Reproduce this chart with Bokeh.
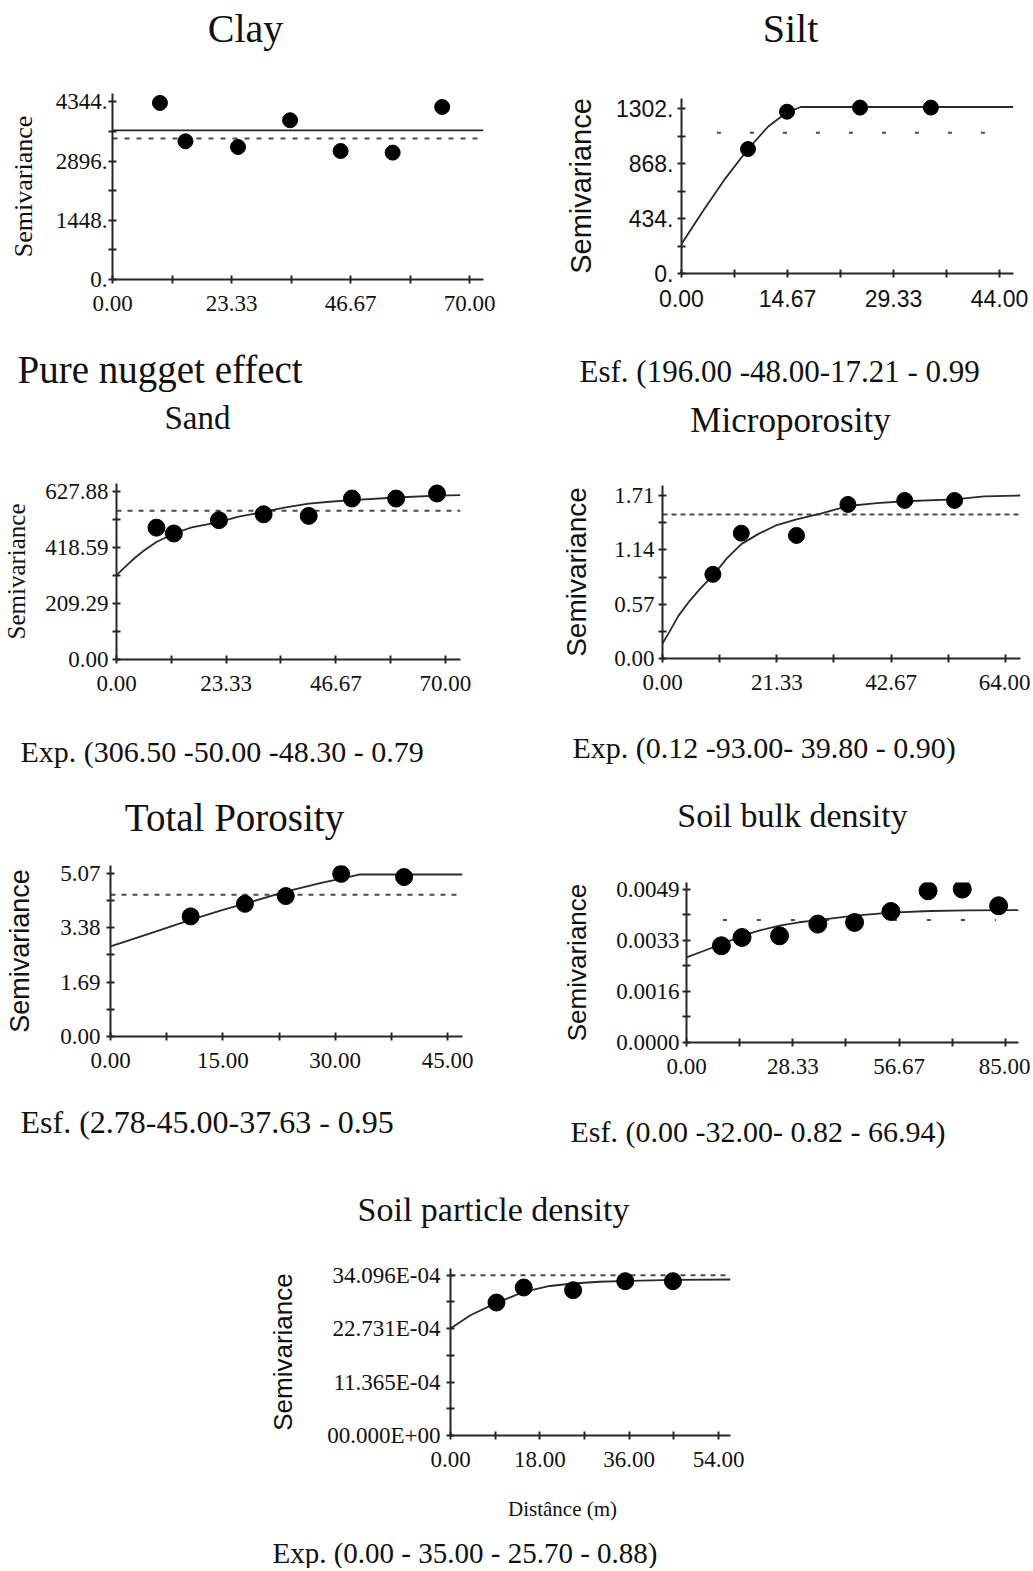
from bokeh.plotting import figure
from bokeh.models import Range1d, FixedTicker, Label
from bokeh.layouts import row, column
from bokeh.embed import file_html
from bokeh.resources import INLINE

SERIF = "Liberation Serif"
SANS = "Liberation Sans"
INK = "#111111"
AX = "#262626"

# ---------------- data ----------------
# Clay (pure nugget effect)
clay_lag = [9.3, 14.3, 24.6, 34.8, 44.7, 54.9, 64.6]
clay_gamma = [4320, 3381, 3241, 3896, 3143, 3104, 4221]
clay_model_x = [0, 72.7]
clay_model_y = [3650, 3650]
clay_var = 3447
clay_xticks = [0.0, 23.33, 46.67, 70.0]
clay_xlabels = ["0.00", "23.33", "46.67", "70.00"]
clay_yticks = [0.0, 1448.0, 2896.0, 4344.0]
clay_ylabels = ["0.", "1448.", "2896.", "4344."]

# Silt
silt_lag = [9.2, 14.6, 24.7, 34.5]
silt_gamma = [982, 1277, 1309, 1309]
silt_model_x = [0, 3, 6, 9.2, 12, 14.6, 16.5, 45.9]
silt_model_y = [233, 495, 745, 982, 1160, 1272, 1314, 1314]
silt_var = 1110
silt_var_x = [4.9, 42.6]
silt_xticks = [0.0, 14.67, 29.33, 44.0]
silt_xlabels = ["0.00", "14.67", "29.33", "44.00"]
silt_yticks = [0.0, 434.0, 868.0, 1302.0]
silt_ylabels = ["0.", "434.", "868.", "1302."]

# Sand
sand_lag = [8.5, 12.2, 21.8, 31.3, 40.9, 50.1, 59.5, 68.2]
sand_gamma = [494, 472, 522, 544, 538, 603, 603, 622]
sand_model_x = [0, 2, 4, 6, 8.5, 12.2, 16, 21.8, 26, 31.3, 36, 40.9, 46, 50.1, 59.5, 68.2, 73.2]
sand_model_y = [316, 350, 382, 410, 440, 472, 495, 515, 535, 553, 570, 584, 592, 597, 607, 614, 616]
sand_var = 557
sand_xticks = [0.0, 23.33, 46.67, 70.0]
sand_xlabels = ["0.00", "23.33", "46.67", "70.00"]
sand_yticks = [0.0, 209.29, 418.59, 627.88]
sand_ylabels = ["0.00", "209.29", "418.59", "627.88"]

# Microporosity
micro_lag = [9.4, 14.7, 25.0, 34.6, 45.2, 54.5]
micro_gamma = [0.883, 1.315, 1.291, 1.616, 1.658, 1.658]
micro_model_x = [0, 1.5, 3, 5, 7, 9.4, 12, 14.7, 18, 21.33, 25, 29.5, 34.6, 40, 45.2, 54.5, 60, 66.8]
micro_model_y = [0.157, 0.30, 0.45, 0.60, 0.73, 0.87, 1.05, 1.20, 1.31, 1.40, 1.46, 1.52, 1.60, 1.63, 1.65, 1.67, 1.70, 1.71]
micro_var = 1.511
micro_xticks = [0.0, 21.33, 42.67, 64.0]
micro_xlabels = ["0.00", "21.33", "42.67", "64.00"]
micro_yticks = [0.0, 0.57, 1.14, 1.71]
micro_ylabels = ["0.00", "0.57", "1.14", "1.71"]

# Total porosity
total_lag = [10.7, 17.95, 23.4, 30.8, 39.2]
total_gamma = [3.73, 4.12, 4.36, 5.05, 4.95]
total_model_x = [0, 5, 10.7, 15, 18, 23.4, 28, 30.8, 33.2, 47.0]
total_model_y = [2.80, 3.18, 3.62, 3.93, 4.13, 4.50, 4.76, 4.90, 5.03, 5.03]
total_var = 4.40
total_xticks = [0.0, 15.0, 30.0, 45.0]
total_xlabels = ["0.00", "15.00", "30.00", "45.00"]
total_yticks = [0.0, 1.69, 3.38, 5.07]
total_ylabels = ["0.00", "1.69", "3.38", "5.07"]

# Soil bulk density
bulk_lag = [9.3, 14.8, 24.8, 35.0, 44.8, 54.5, 64.4, 73.5, 83.2]
bulk_gamma = [0.003089, 0.003354, 0.003408, 0.003782, 0.003833, 0.004185, 0.004846, 0.0049, 0.004367]
bulk_model_x = [0, 4.7, 9.3, 14.8, 19.8, 24.8, 30, 35, 44.8, 54.5, 65, 75, 88.5]
bulk_model_y = [0.00272, 0.00293, 0.00314, 0.00341, 0.00359, 0.00373, 0.00384, 0.00391,
                0.00405, 0.00415, 0.00420, 0.00422, 0.00423]
bulk_var = 0.00391
bulk_var_x = [9.7, 82.5]
bulk_xticks = [0.0, 28.33, 56.67, 85.0]
bulk_xlabels = ["0.00", "28.33", "56.67", "85.00"]
bulk_yticks = [0.0, 0.0016333, 0.0032667, 0.0049]
bulk_ylabels = ["0.0000", "0.0016", "0.0033", "0.0049"]

# Soil particle density
part_lag = [9.26, 14.75, 24.7, 35.2, 44.8]
part_gamma = [0.002828, 0.003148, 0.00309, 0.003282, 0.003282]
part_model_x = [0, 4, 9.26, 14.75, 20, 24.7, 30, 36, 45, 56.4]
part_model_y = [0.002274, 0.002557, 0.00282, 0.003054, 0.00318, 0.003233, 0.00327, 0.003288, 0.00331, 0.003318]
part_var = 0.0034096
part_xticks = [0.0, 18.0, 36.0, 54.0]
part_xlabels = ["0.00", "18.00", "36.00", "54.00"]
part_yticks = [0.0, 0.0011365, 0.0022731, 0.0034096]
part_ylabels = ["00.000E+00", "11.365E-04", "22.731E-04", "34.096E-04"]

# Titles and captions
titles = ["Clay", "Silt", "Sand", "Microporosity", "Total Porosity", "Soil bulk density", "Soil particle density"]
captions = ["Pure nugget effect", "Esf. (196.00 -48.00-17.21 - 0.99", "Exp. (306.50 -50.00 -48.30 - 0.79",
            "Exp. (0.12 -93.00- 39.80 - 0.90)", "Esf. (2.78-45.00-37.63 - 0.95",
            "Esf. (0.00 -32.00- 0.82 - 66.94)", "Exp. (0.00 - 35.00 - 25.70 - 0.88)"]
x_title = "Distânce (m)"
y_title = "Semivariance"

W = 1030
WL = 540
WR = W - WL


def mids(t):
    return [(a + b) / 2 for a, b in zip(t[:-1], t[1:])]


def panel(w, h, bl, br, bt, bb, xmax, ymax, xticks, xlabels, yticks, ylabels,
          tick_font, ylab_font, ylab_size, ylab_standoff, ytick_standoff=4, xtick_standoff=12):
    p = figure(width=w, height=h, x_range=Range1d(0, xmax), y_range=Range1d(0, ymax),
               output_backend="svg", toolbar_location=None,
               min_border_left=bl, min_border_right=br, min_border_top=bt, min_border_bottom=bb)
    p.outline_line_color = None
    p.xgrid.visible = False
    p.ygrid.visible = False
    p.background_fill_color = "white"
    p.border_fill_color = "white"
    p.xaxis.ticker = FixedTicker(ticks=xticks, minor_ticks=mids(xticks))
    p.yaxis.ticker = FixedTicker(ticks=yticks, minor_ticks=mids(yticks))
    p.xaxis.major_label_overrides = dict(zip(xticks, xlabels))
    p.yaxis.major_label_overrides = dict(zip(yticks, ylabels))
    for ax in (p.xaxis[0], p.yaxis[0]):
        ax.axis_line_color = AX
        ax.axis_line_width = 2
        ax.major_tick_line_color = AX
        ax.major_tick_line_width = 2
        ax.minor_tick_line_color = AX
        ax.minor_tick_line_width = 2
        ax.major_tick_in = 4
        ax.major_tick_out = 4
        ax.minor_tick_in = 4
        ax.minor_tick_out = 4
        ax.major_label_text_font = tick_font
        ax.major_label_text_font_size = "23px"
        ax.major_label_text_color = INK
    p.xaxis.major_label_standoff = xtick_standoff
    p.yaxis.major_label_standoff = ytick_standoff
    p.yaxis.axis_label = y_title
    p.yaxis.axis_label_text_font = ylab_font
    p.yaxis.axis_label_text_font_size = f"{ylab_size}px"
    p.yaxis.axis_label_text_font_style = "normal"
    p.yaxis.axis_label_text_color = INK
    p.yaxis.axis_label_standoff = ylab_standoff
    return p


def strip(h, items):
    """A text-only band: items are (x, y_from_bottom, text, font, size, align)."""
    s = figure(width=W, height=h, x_range=Range1d(0, W), y_range=Range1d(0, h),
               output_backend="svg", toolbar_location=None, x_axis_type=None, y_axis_type=None,
               min_border=0, min_border_left=0, min_border_right=0, min_border_top=0, min_border_bottom=0)
    s.outline_line_color = None
    s.xgrid.visible = False
    s.ygrid.visible = False
    s.background_fill_color = "white"
    s.border_fill_color = "white"
    for (x, y, t, font, size, align) in items:
        s.add_layout(Label(x=x, y=y, x_units="screen", y_units="screen", text=t,
                           text_font=font, text_font_size=f"{size}px", text_align=align,
                           text_baseline="alphabetic", text_color=INK))
    return row(s)


def dots(p, x, y, size):
    p.scatter(x, y, size=size, color="black")


def model(p, x, y):
    p.line(x, y, line_color="#2a2a2a", line_width=1.8)


def hline(p, x, yv, dash, width=2):
    p.line(x, [yv] * len(x), line_color="#4a4a4a", line_width=width, line_dash=dash)


# ---- strip 1: titles of row A ----
s1 = strip(60, [(245, 32, titles[0], SERIF, 40, "center"),
                (790, 32, titles[1], SERIF, 40, "center")])

# Clay
p1 = panel(WL, 280, 112, 57, 33, 61, 72.7, 4550, clay_xticks, clay_xlabels, clay_yticks, clay_ylabels,
           SERIF, SERIF, 26, 15, ytick_standoff=1)
model(p1, clay_model_x, clay_model_y)
hline(p1, clay_model_x, clay_var, "5 7")
dots(p1, clay_lag, clay_gamma, 15)

# Silt
p2 = panel(WR, 280, 141, 17, 38, 67, 45.93, 1381, silt_xticks, silt_xlabels, silt_yticks, silt_ylabels,
           SANS, SANS, 29, 16)
hline(p2, silt_var_x, silt_var, "4 29")
model(p2, silt_model_x, silt_model_y)
dots(p2, silt_lag, silt_gamma, 15)

# ---- strip 2 ----
s2 = strip(100, [(17, 71, captions[0], SERIF, 39, "left"),
                 (579, 69, captions[1], SERIF, 31, "left"),
                 (197, 23, titles[2], SERIF, 33, "center"),
                 (790, 20, titles[3], SERIF, 35, "center")])

# Sand
p3 = panel(WL, 280, 116, 80, 43, 61, 73.2, 659.4, sand_xticks, sand_xlabels, sand_yticks, sand_ylabels,
           SERIF, SERIF, 25, 12)
hline(p3, [0, 73.2], sand_var, "5 6")
model(p3, sand_model_x, sand_model_y)
dots(p3, sand_lag, sand_gamma, 17)

# Microporosity
p4 = panel(WR, 280, 122, 10, 45, 62, 66.8, 1.815, micro_xticks, micro_xlabels, micro_yticks, micro_ylabels,
           SERIF, SANS, 28, 19)
hline(p4, [0, 66.8], micro_var, "5 4")
model(p4, micro_model_x, micro_model_y)
dots(p4, micro_lag, micro_gamma, 16)

# ---- strip 3 ----
s3 = strip(120, [(20, 89, captions[2], SERIF, 30, "left"),
                 (572, 93, captions[3], SERIF, 30, "left"),
                 (234, 23, titles[4], SERIF, 39, "center"),
                 (792, 25, titles[5], SERIF, 34, "center")])

# Total porosity
p5 = panel(WL, 255, 110, 78, 25, 59, 47.0, 5.31, total_xticks, total_xlabels, total_yticks, total_ylabels,
           SERIF, SANS, 27, 22, ytick_standoff=6)
hline(p5, [0, 47.0], total_var, "5 6")
model(p5, total_model_x, total_model_y)
dots(p5, total_lag, total_gamma, 17)

# Soil bulk density
p6 = panel(WR, 255, 146, 12, 42, 53, 88.5, 0.00511, bulk_xticks, bulk_xlabels, bulk_yticks, bulk_ylabels,
           SERIF, SANS, 26, 21, ytick_standoff=3)
hline(p6, bulk_var_x, bulk_var, "4 30")
model(p6, bulk_model_x, bulk_model_y)
dots(p6, bulk_lag, bulk_gamma, 18)

# ---- strip 4 ----
s4 = strip(135, [(20, 109, captions[4], SERIF, 32, "left"),
                 (570, 99, captions[5], SERIF, 30, "left"),
                 (493, 21, titles[6], SERIF, 34, "center")])

# Soil particle density
p7 = panel(W, 260, 450, 300, 38, 55, 56.4, 0.003552, part_xticks, part_xlabels, part_yticks, part_ylabels,
           SERIF, SANS, 26, 26, ytick_standoff=6)
hline(p7, [0, 56.4], part_var, "5 5")
model(p7, part_model_x, part_model_y)
dots(p7, part_lag, part_gamma, 17)

# ---- strip 5 ----
s5 = strip(78, [(562, 60, x_title, SERIF, 21, "center"),
                (272, 16, captions[6], SERIF, 29, "left")])

p = column(s1,
           row(column(p1), column(p2)),
           s2,
           row(column(p3), column(p4)),
           s3,
           row(column(p5), column(p6)),
           s4,
           row(column(p7)),
           s5)

open("out.html", "w").write(file_html(p, INLINE))
